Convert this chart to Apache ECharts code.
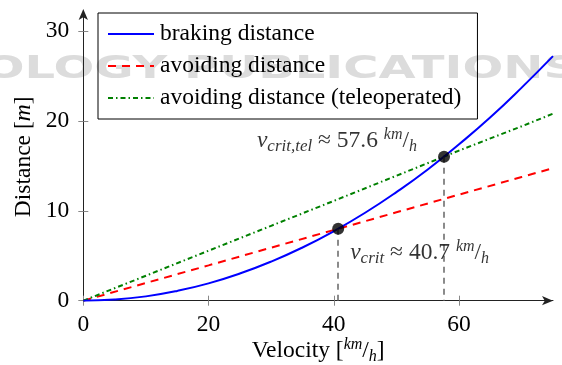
<!DOCTYPE html>
<html>
<head>
<meta charset="utf-8">
<script src="https://cdn.jsdelivr.net/npm/echarts@6/dist/echarts.min.js"></script>
<style>html,body{margin:0;padding:0;background:#fff;}#c{width:562px;height:365px;}</style>
</head>
<body>
<div id="c"></div>
<script>
// Data
const velocity = [0, 5, 10, 15, 20, 25, 30, 35, 40, 45, 50, 55, 60, 65, 70, 75];
const braking  = [0, 0.12, 0.48, 1.09, 1.93, 3.02, 4.35, 5.92, 7.73, 9.78, 12.08, 14.6, 17.4, 20.4, 23.7, 27.2];
const velocityLin = [0, 10, 20, 30, 40, 50, 60, 70, 75];
const avoiding = [0, 1.97, 3.93, 5.9, 7.86, 9.83, 11.8, 13.76, 14.74];
const avoidingTele = [0, 2.78, 5.56, 8.33, 11.1, 13.9, 16.7, 19.4, 20.8];
const critPoints = [[40.7, 8.0], [57.6, 16.0]];
const xTicks = [0, 20, 40, 60];
const yTicks = [0, 10, 20, 30];
const seriesNames = ['braking distance', 'avoiding distance', 'avoiding distance (teleoperated)'];

const serif = 'Liberation Serif';
const FS = 23.5;
const rich = {
  n: {fontFamily: serif, fontSize: FS, lineHeight: 28, color: '#000'},
  v: {fontFamily: serif, fontSize: FS, lineHeight: 28, fontStyle: 'italic', color: '#000'},
  s: {fontFamily: serif, fontSize: 17, lineHeight: 15, fontStyle: 'italic', verticalAlign: 'bottom', color: '#000'},
  up: {fontFamily: serif, fontSize: 16, lineHeight: 14, fontStyle: 'italic', verticalAlign: 'top', color: '#000'},
  dn: {fontFamily: serif, fontSize: 16, lineHeight: 19, fontStyle: 'italic', verticalAlign: 'bottom', color: '#000'}
};

const chart = echarts.init(document.getElementById('c'), null, {renderer: 'canvas'});
const pair = (xs, ys) => xs.map((x, i) => [x, ys[i]]);

const axisFont = {fontFamily: serif, fontSize: FS, color: '#000'};

chart.setOption({
  animation: false,
  backgroundColor: '#fff',
  graphic: [{
    type: 'text', z: -10, x: 578, y: 70, scaleX: 1.5, silent: true,
    style: {text: 'OLOGY PUBLICATIONS', font: 'bold 32px "DejaVu Sans"', fill: '#dcdcdc',
            align: 'right', verticalAlign: 'middle'}
  }],
  grid: {left: 83.3, right: 9, top: 13, bottom: 64.3, containLabel: false, outerBoundsMode: 'none'},
  legend: {
    orient: 'vertical', left: 98, top: 13,
    padding: [9, 16, 9, 9], itemGap: 8, itemWidth: 46, itemHeight: 14,
    borderColor: '#000', borderWidth: 1,
    itemStyle: {opacity: 0},
    textStyle: {fontFamily: serif, fontSize: FS, lineHeight: 22, color: '#000', padding: [0, 0, 0, 1]},
    data: seriesNames
  },
  xAxis: [{
    type: 'value', min: 0, max: 75,
    name: '{n|Velocity [}{up|km}{n|/}{dn|h}{n|]}', nameLocation: 'middle', nameGap: 36,
    nameMoveOverlap: false,
    nameTextStyle: {rich: rich},
    axisLine: {show: true, lineStyle: {color: '#222', width: 1}, symbol: ['none', 'arrow'], symbolSize: [7, 11], symbolOffset: [0, 0]},
    axisTick: {show: true, inside: false, length: 5, lineStyle: {color: '#888'}, customValues: xTicks},
    axisLabel: Object.assign({margin: 12, customValues: xTicks}, axisFont),
    splitLine: {show: false}
  }, {
    type: 'value', min: 0, max: 75, gridIndex: 0, position: 'bottom',
    axisLine: {show: false},
    axisTick: {show: true, inside: true, length: 5, lineStyle: {color: '#888'}, customValues: xTicks},
    axisLabel: {show: false}, splitLine: {show: false}
  }],
  yAxis: [{
    type: 'value', min: 0, max: 32,
    name: '{n|Distance [}{v|m}{n|]}', nameLocation: 'middle', nameGap: 45,
    nameMoveOverlap: false,
    nameTextStyle: {rich: rich},
    axisLine: {show: true, lineStyle: {color: '#222', width: 1}, symbol: ['none', 'arrow'], symbolSize: [7, 11], symbolOffset: [0, 4]},
    axisTick: {show: true, inside: false, length: 5, lineStyle: {color: '#888'}, customValues: yTicks},
    axisLabel: Object.assign({margin: 14, customValues: yTicks}, axisFont),
    splitLine: {show: false}
  }, {
    type: 'value', min: 0, max: 32, gridIndex: 0, position: 'left',
    axisLine: {show: false},
    axisTick: {show: true, inside: true, length: 5, lineStyle: {color: '#888'}, customValues: yTicks},
    axisLabel: {show: false}, splitLine: {show: false}
  }],
  series: [{
    name: seriesNames[0], type: 'line', smooth: true, symbol: 'none', z: 4,
    data: pair(velocity, braking),
    lineStyle: {color: '#0000ff', width: 2}, itemStyle: {color: '#0000ff'}
  }, {
    name: seriesNames[1], type: 'line', symbol: 'none', z: 3,
    data: pair(velocityLin, avoiding),
    lineStyle: {color: '#ff0000', width: 2, type: [8, 6]}, itemStyle: {color: '#ff0000'}
  }, {
    name: seriesNames[2], type: 'line', symbol: 'none', z: 3,
    data: pair(velocityLin, avoidingTele),
    lineStyle: {color: '#008000', width: 2, type: [5, 3, 1.5, 3]}, itemStyle: {color: '#008000'}
  }, {
    name: 'crit', type: 'scatter', symbol: 'circle', symbolSize: 12, z: 6,
    itemStyle: {color: '#000'},
    data: [{
      value: critPoints[0],
      label: {show: true, position: 'right', distance: 6, offset: [0, 24],
        formatter: '{v|v}{s|crit}{n| ≈ 40.7 }{up|km}{n|/}{dn|h}', rich: rich}
    }, {
      value: critPoints[1],
      label: {show: true, position: 'left', distance: 21, offset: [0, -16],
        formatter: '{v|v}{s|crit,tel}{n| ≈ 57.6 }{up|km}{n|/}{dn|h}', rich: rich}
    }],
    markLine: {
      silent: true, symbol: ['none', 'none'], label: {show: false},
      lineStyle: {color: '#666', type: [6, 5], width: 1.5},
      data: [
        [{coord: [critPoints[0][0], critPoints[0][1]]}, {coord: [critPoints[0][0], 0]}],
        [{coord: [critPoints[1][0], critPoints[1][1]]}, {coord: [critPoints[1][0], 0]}]
      ]
    }
  }]
});
</script>
</body>
</html>
